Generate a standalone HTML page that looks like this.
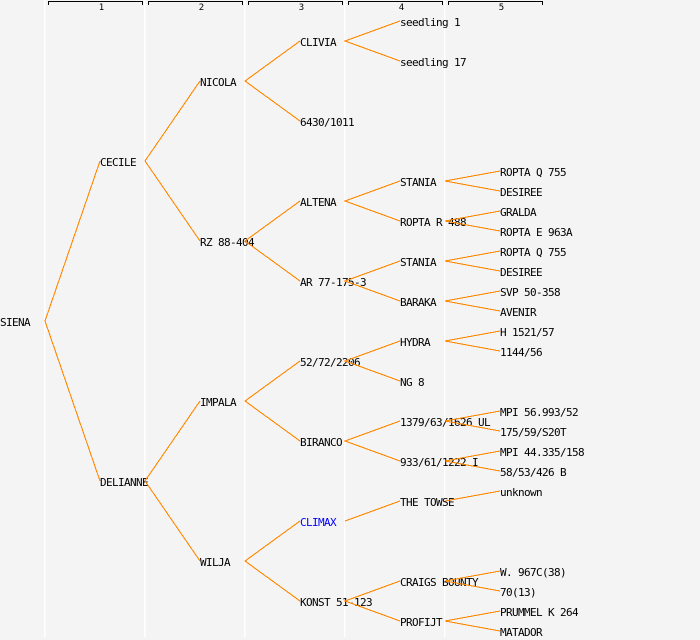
<!DOCTYPE html>
<html>
<head>
<meta charset="utf-8">
<style>
  html, body { margin: 0; padding: 0; background: #f4f4f4; }
  svg { display: block; }
  .t { font-family: "DejaVu Sans Mono", "Liberation Mono", monospace; font-size: 11px; letter-spacing: -0.62px; fill: #000; }
  .h { font-family: "DejaVu Sans Mono", "Liberation Mono", monospace; font-size: 9px; fill: #000; }
  .e { stroke: #ff8800; stroke-width: 1.1; fill: none; shape-rendering: crispEdges; }
</style>
</head>
<body>
<svg width="700" height="640" viewBox="0 0 700 640" xmlns="http://www.w3.org/2000/svg">
  <rect x="0" y="0" width="700" height="640" fill="#f4f4f4"/>
  <!-- column separators -->
  <g fill="#ffffff">
    <rect x="44" y="0" width="1.6" height="637"/>
    <rect x="144" y="0" width="1.6" height="637"/>
    <rect x="244" y="0" width="1.6" height="637"/>
    <rect x="344" y="0" width="1.3" height="637"/>
    <rect x="444" y="0" width="1.3" height="637"/>
  </g>
  <!-- header brackets -->
  <g fill="#000" shape-rendering="crispEdges">
    <rect x="48" y="1" width="95" height="1"/><rect x="48" y="1" width="1" height="4"/><rect x="142" y="1" width="1" height="4"/>
    <rect x="148" y="1" width="95" height="1"/><rect x="148" y="1" width="1" height="4"/><rect x="242" y="1" width="1" height="4"/>
    <rect x="248" y="1" width="95" height="1"/><rect x="248" y="1" width="1" height="4"/><rect x="342" y="1" width="1" height="4"/>
    <rect x="348" y="1" width="95" height="1"/><rect x="348" y="1" width="1" height="4"/><rect x="442" y="1" width="1" height="4"/>
    <rect x="448" y="1" width="95" height="1"/><rect x="448" y="1" width="1" height="4"/><rect x="542" y="1" width="1" height="4"/>
  </g>
  <g class="h" text-anchor="middle">
    <text x="101.5" y="10">1</text>
    <text x="201.5" y="10">2</text>
    <text x="301.5" y="10">3</text>
    <text x="401.5" y="10">4</text>
    <text x="501.5" y="10">5</text>
  </g>

  <!-- labels -->
  <g class="t">
    <text x="0" y="326">SIENA</text>

    <text x="100" y="166">CECILE</text>
    <text x="100" y="486">DELIANNE</text>

    <text x="200" y="86">NICOLA</text>
    <text x="200" y="246">RZ 88-404</text>
    <text x="200" y="406">IMPALA</text>
    <text x="200" y="566">WILJA</text>

    <text x="300" y="46">CLIVIA</text>
    <text x="300" y="126">6430/1011</text>
    <text x="300" y="206">ALTENA</text>
    <text x="300" y="286">AR 77-175-3</text>
    <text x="300" y="366">52/72/2206</text>
    <text x="300" y="446">BIRANCO</text>
    <text x="300" y="526" fill="#0000ff" style="fill:#0000ff">CLIMAX</text>
    <text x="300" y="606">KONST 51-123</text>

    <text x="400" y="26">seedling 1</text>
    <text x="400" y="66">seedling 17</text>
    <text x="400" y="186">STANIA</text>
    <text x="400" y="226">ROPTA R 488</text>
    <text x="400" y="266">STANIA</text>
    <text x="400" y="306">BARAKA</text>
    <text x="400" y="346">HYDRA</text>
    <text x="400" y="386">NG 8</text>
    <text x="400" y="426">1379/63/1626 UL</text>
    <text x="400" y="466">933/61/1222 I</text>
    <text x="400" y="506">THE TOWSE</text>
    <text x="400" y="586">CRAIGS BOUNTY</text>
    <text x="400" y="626">PROFIJT</text>

    <text x="500" y="176">ROPTA Q 755</text>
    <text x="500" y="196">DESIREE</text>
    <text x="500" y="216">GRALDA</text>
    <text x="500" y="236">ROPTA E 963A</text>
    <text x="500" y="256">ROPTA Q 755</text>
    <text x="500" y="276">DESIREE</text>
    <text x="500" y="296">SVP 50-358</text>
    <text x="500" y="316">AVENIR</text>
    <text x="500" y="336">H 1521/57</text>
    <text x="500" y="356">1144/56</text>
    <text x="500" y="416">MPI 56.993/52</text>
    <text x="500" y="436">175/59/S20T</text>
    <text x="500" y="456">MPI 44.335/158</text>
    <text x="500" y="476">58/53/426 B</text>
    <text x="500" y="496">unknown</text>
    <text x="500" y="576">W. 967C(38)</text>
    <text x="500" y="596">70(13)</text>
    <text x="500" y="616">PRUMMEL K 264</text>
    <text x="500" y="636">MATADOR</text>
  </g>

  <!-- connectors -->
  <g class="e">
    <polyline points="100,161 45,321 100,481"/>
    <polyline points="200,81 145,161 200,241"/>
    <polyline points="200,401 145,481 200,561"/>
    <polyline points="300,41 245,81 300,121"/>
    <polyline points="300,201 245,241 300,281"/>
    <polyline points="300,361 245,401 300,441"/>
    <polyline points="300,521 245,561 300,601"/>
    <polyline points="400,21 345,41 400,61"/>
    <polyline points="400,181 345,201 400,221"/>
    <polyline points="400,261 345,281 400,301"/>
    <polyline points="400,341 345,361 400,381"/>
    <polyline points="400,421 345,441 400,461"/>
    <polyline points="400,501 345,521"/>
    <polyline points="400,581 345,601 400,621"/>
    <polyline points="500,171 445,181 500,191"/>
    <polyline points="500,211 445,221 500,231"/>
    <polyline points="500,251 445,261 500,271"/>
    <polyline points="500,291 445,301 500,311"/>
    <polyline points="500,331 445,341 500,351"/>
    <polyline points="500,411 445,421 500,431"/>
    <polyline points="500,451 445,461 500,471"/>
    <polyline points="500,491 445,501"/>
    <polyline points="500,571 445,581 500,591"/>
    <polyline points="500,611 445,621 500,631"/>
  </g>
</svg>
</body>
</html>
